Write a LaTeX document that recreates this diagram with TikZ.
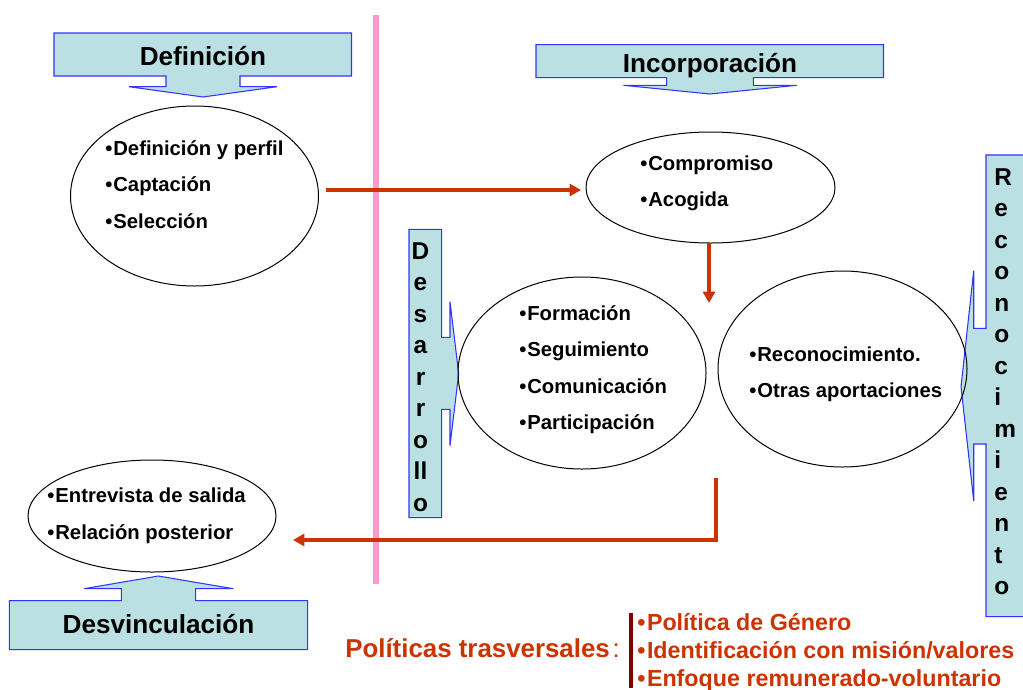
\documentclass[tikz,border=0pt]{standalone}
\usepackage{fontspec}
\setmainfont{Liberation Sans}
\usetikzlibrary{arrows.meta,shapes.geometric}
\definecolor{bannerfill}{HTML}{BBE0E3}
\definecolor{bannerline}{HTML}{3333FF}
\definecolor{flowred}{HTML}{CC3300}
\definecolor{barred}{HTML}{800000}
\definecolor{pinkline}{HTML}{FF99CC}
\newcommand{\itemdot}{•\kern0.75pt}
\newcommand{\policydot}{•\kern1.2pt}
\tikzset{
  banner/.style={draw=bannerline,fill=bannerfill,line width=0.8pt,line join=miter},
  oval/.style={shape=ellipse,draw=black,line width=0.75pt,inner sep=0pt,outer sep=0pt},
  flow/.style={draw=flowred,line width=3pt,-{Triangle[length=8.5pt,width=9pt]}},
  item/.style={anchor=base west,inner sep=0pt,font=\bfseries\fontsize{15.2}{17}\selectfont},
  head/.style={anchor=base,inner sep=0pt,font=\bfseries\fontsize{19.6}{22}\selectfont},
  vert/.style={inner sep=0pt,font=\bfseries\fontsize{18.3}{23.65}\selectfont},
  policy/.style={anchor=base west,inner sep=0pt,text=flowred,font=\bfseries\fontsize{17.45}{20}\selectfont}
}
\begin{document}
\begin{tikzpicture}[x=0.75pt,y=-0.75pt]
\useasboundingbox (0,0) rectangle (1023,689);
% vertical divider
\coordinate (pt) at (376,15);
\coordinate (pb) at (376,584);
\draw[pinkline,line width=4pt] (pt) -- (pb);
% banners
\draw[banner] (54,33) -- (351.5,33) -- (351.5,76) -- (240,76) -- (240,86.7) -- (277,86.7) -- (203,97) -- (129,86.7) -- (166,86.7) -- (166,76) -- (54,76) -- cycle;
\draw[banner] (536,44.7) -- (883.5,44.7) -- (883.5,77.7) -- (753.3,77.7) -- (753.3,85.3) -- (796.7,85.3) -- (710,94) -- (623.3,85.3) -- (666.7,85.3) -- (666.7,77.7) -- (536,77.7) -- cycle;
\draw[banner] (409,229.3) -- (441.7,229.3) -- (441.7,337.3) -- (450,337.3) -- (450,301.7) -- (458.7,373.7) -- (450,445.7) -- (450,409.3) -- (441.7,409.3) -- (441.7,517.7) -- (409,517.7) -- cycle;
\draw[banner] (1024,155) -- (986,155) -- (986,328.3) -- (973.7,328.3) -- (973.7,270.7) -- (961,386.7) -- (973.7,501) -- (973.7,444) -- (986,444) -- (986,616.7) -- (1024,616.7);
\draw[banner] (9.3,600.7) -- (121.3,600.7) -- (121.3,588.7) -- (84,588.7) -- (158.3,576) -- (233.3,588.7) -- (195.7,588.7) -- (195.7,600.7) -- (307.7,600.7) -- (307.7,649.7) -- (9.3,649.7) -- cycle;
% ovals
\node[oval,minimum width=186pt,minimum height=135pt] (odef) at (194.5,196) {};
\node[oval,minimum width=186.75pt,minimum height=83.25pt] (oinc) at (710.5,187.5) {};
\node[oval,minimum width=186pt,minimum height=144pt] (odes) at (582,373) {};
\node[oval,minimum width=186.75pt,minimum height=147pt] (orec) at (842.5,369) {};
\node[oval,minimum width=186pt,minimum height=84pt] (osal) at (152,516) {};
% banner titles
\node[head] (tdef) at (203,65) {Definición};
\node[head] (tinc) at (710,72) {Incorporación};
\node[head] (tsal) at (158.5,633) {Desvinculación};
\node[vert,align=center,anchor=north] (tdes) at (420.5,242) {D\\e\\s\\a\\r\\r\\o\\ll\\o};
\node[vert,align=left,anchor=north west] (trec) at (994,168) {R\\e\\c\\o\\n\\o\\c\\i\\m\\i\\e\\n\\t\\o};
% oval items
\node[item] (d1) at (105,155) {\itemdot Definición y perfil};
\node[item] (d2) at (105,191.5) {\itemdot Captación};
\node[item] (d3) at (105,228) {\itemdot Selección};
\node[item] (i1) at (640,170) {\itemdot Compromiso};
\node[item] (i2) at (640,206.5) {\itemdot Acogida};
\node[item] (e1) at (519,320) {\itemdot Formación};
\node[item] (e2) at (519,356.5) {\itemdot Seguimiento};
\node[item] (e3) at (519,393) {\itemdot Comunicación};
\node[item] (e4) at (519,429.5) {\itemdot Participación};
\node[item] (r1) at (749,361) {\itemdot Reconocimiento.};
\node[item] (r2) at (749,397.5) {\itemdot Otras aportaciones};
\node[item] (s1) at (47,502) {\itemdot Entrevista de salida};
\node[item] (s2) at (47,539) {\itemdot Relación posterior};
% flows
\coordinate (a1s) at (326,190);
\coordinate (a1e) at (581,190);
\coordinate (a2e) at (709,303);
\coordinate (a3s) at (716,478);
\coordinate (a3c) at (716,540);
\coordinate (a3e) at (293,540);
\draw[flow] (a1s) -- (a1e);
\draw[flow] (oinc.south -| a2e) -- (a2e);
\draw[flow,line join=miter] (a3s) -- (a3c) -- (a3e);
% transversal policies
\node[anchor=base west,inner sep=0pt,text=flowred,font=\fontsize{19.4}{22}\selectfont] (pol) at (345,657) {\textbf{Políticas trasversales}\kern2pt:};
\coordinate (bt) at (631,613);
\coordinate (bb) at (631,688);
\draw[barred,line width=3pt] (bt) -- (bb);
\node[policy] (p1) at (637,630) {\policydot Política de Género};
\node[policy] (p2) at (637,658) {\policydot Identificación con misión/valores};
\node[policy] (p3) at (637,686) {\policydot Enfoque remunerado-voluntario};
\end{tikzpicture}
\end{document}
